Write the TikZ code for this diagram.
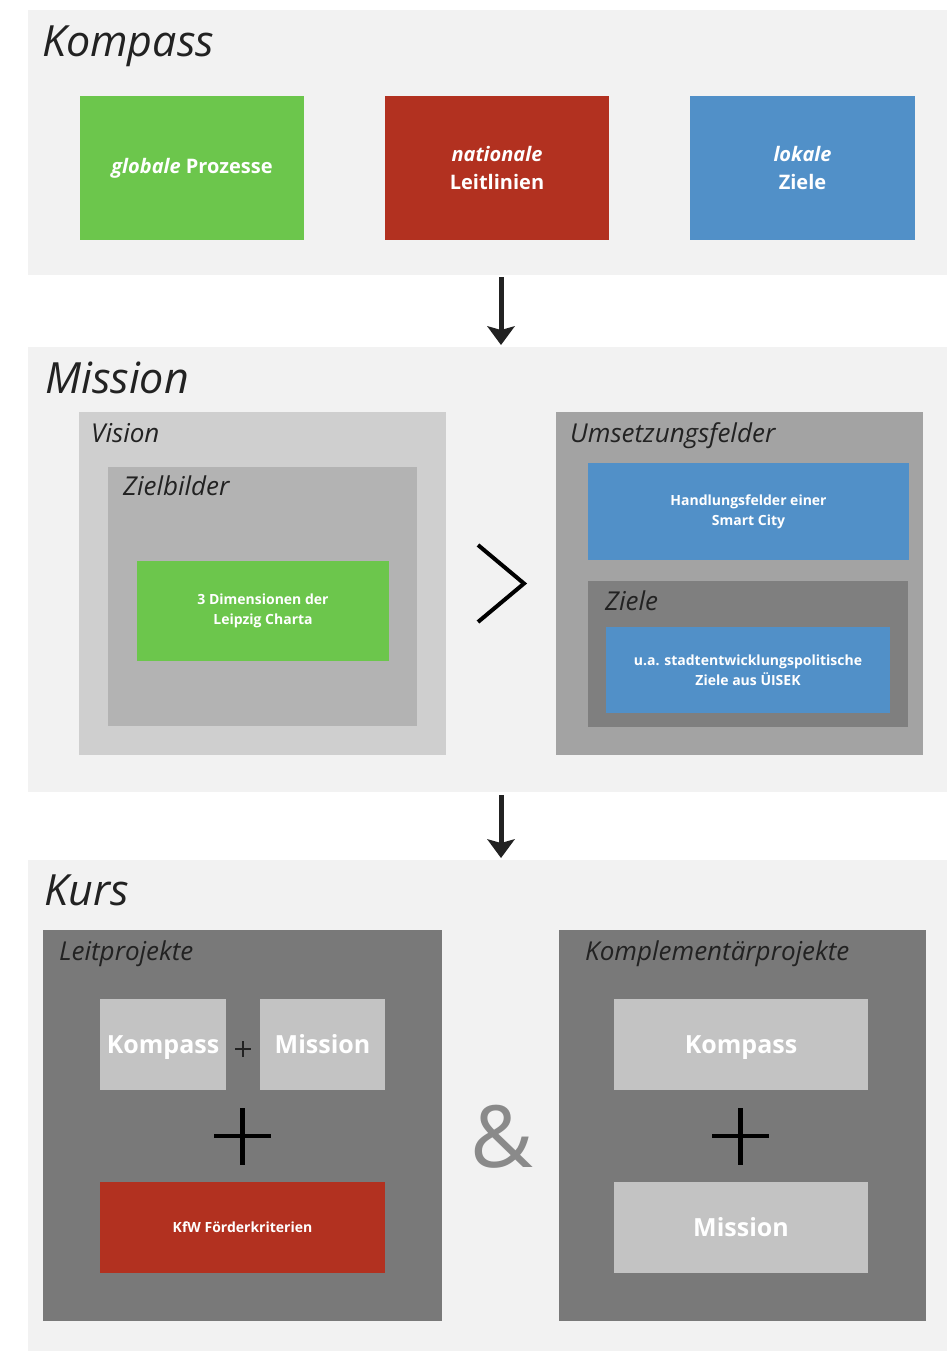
\documentclass[tikz,border=0pt]{standalone}
\usepackage{fontspec}
\setmainfont{Open Sans}
\usetikzlibrary{arrows.meta}

\definecolor{panelbg}{HTML}{F2F2F2}
\definecolor{gGreen}{HTML}{6CC64C}
\definecolor{gRed}{HTML}{B23120}
\definecolor{gBlue}{HTML}{5190C8}
\definecolor{grayA}{HTML}{CFCFCF}
\definecolor{grayB}{HTML}{B3B3B3}
\definecolor{grayC}{HTML}{A3A3A3}
\definecolor{grayD}{HTML}{7F7F7F}
\definecolor{grayE}{HTML}{797979}
\definecolor{grayF}{HTML}{C3C3C3}
\definecolor{ink}{HTML}{222222}
\definecolor{amp}{HTML}{8A8A8A}

\tikzset{
  blk/.style={rectangle, inner sep=0pt, outer sep=0pt, draw=none, anchor=north west},
  title/.style={anchor=base west, inner sep=0pt, text=ink, font=\fontsize{43}{50}\selectfont\itshape},
  sublabel/.style={anchor=base west, inner sep=0pt, text=ink, font=\fontsize{26}{30}\selectfont\itshape},
  bigtext/.style={text=white, align=center, font=\fontsize{20}{28}\selectfont\bfseries},
  smalltext/.style={text=white, align=center, font=\fontsize{14}{20}\selectfont\bfseries},
  kurstext/.style={text=white, inner sep=0pt, text height=18pt, text depth=0pt,
                   font=\fontsize{25}{30}\selectfont\bfseries},
  flow/.style={draw=ink, fill=ink, line width=5pt,
               -{Stealth[length=19pt, width=28pt, inset=4pt, line width=0pt]}},
  signline/.style={draw=black, line width=4.5pt},
  minisign/.style={draw=ink, line width=2pt},
}

\begin{document}
\begin{tikzpicture}[x=1pt, y=-1pt]
\useasboundingbox (0,0) rectangle (947,1351);

% ---------- Kompass ----------
\node[blk, fill=panelbg, minimum width=919pt, minimum height=265pt] (kpanel) at (28,10) {};
\node[title] (ktitle) at (42,57) {Kompass};
\node[blk, fill=gGreen, minimum width=224pt, minimum height=144pt] (kglob) at (80,96) {};
\node[bigtext] (kglobt) at (kglob.center) {\itshape globale\upshape{} Prozesse};
\node[blk, fill=gRed, minimum width=224pt, minimum height=144pt] (knat) at (385,96) {};
\node[bigtext] (knatt) at (knat.center) {\itshape nationale\\Leitlinien};
\node[blk, fill=gBlue, minimum width=225pt, minimum height=144pt] (klok) at (690,96) {};
\node[bigtext] (klokt) at (klok.center) {\itshape lokale\\Ziele};

% ---------- Mission ----------
\node[blk, fill=panelbg, minimum width=919pt, minimum height=445pt] (mpanel) at (28,347) {};
\node[title] (mtitle) at (45,393) {Mission};

\node[blk, fill=grayA, minimum width=367pt, minimum height=343pt] (vision) at (79,412) {};
\node[sublabel] (visiont) at (91,442) {Vision};
\node[blk, fill=grayB, minimum width=309pt, minimum height=259pt] (zielb) at (108,467) {};
\node[sublabel] (zielbt) at (123,495) {Zielbilder};
\node[blk, fill=gGreen, minimum width=252pt, minimum height=100pt] (leipzig) at (137,561) {};
\node[smalltext] (leipzigt) at (leipzig.center) {3 Dimensionen der\\Leipzig Charta};

\draw[draw=black, line width=4pt, line join=miter] (478,545) -- (524,583.5) -- (478,622);

\node[blk, fill=grayC, minimum width=367pt, minimum height=343pt] (umsetz) at (556,412) {};
\node[sublabel] (umsetzt) at (570,442) {Umsetzungsfelder};
\node[blk, fill=gBlue, minimum width=321pt, minimum height=97pt] (handl) at (588,463) {};
\node[smalltext] (handlt) at (handl.center) {Handlungsfelder einer\\Smart City};
\node[blk, fill=grayD, minimum width=320pt, minimum height=146pt] (ziele) at (588,581) {};
\node[sublabel] (zielet) at (605,610) {Ziele};
\node[blk, fill=gBlue, minimum width=284pt, minimum height=86pt] (isek) at (606,627) {};
\node[smalltext] (isekt) at (isek.center) {u.a. stadtentwicklungspolitische\\Ziele aus ÜISEK};

% ---------- Kurs ----------
\node[blk, fill=panelbg, minimum width=919pt, minimum height=491pt] (cpanel) at (28,860) {};
\node[title] (ctitle) at (44,905) {Kurs};

\node[blk, fill=grayE, minimum width=399pt, minimum height=391pt] (leit) at (43,930) {};
\node[sublabel] (leitt) at (59,960) {Leitprojekte};
\node[blk, fill=grayF, minimum width=126pt, minimum height=91pt] (lkomp) at (100,999) {};
\node[kurstext] (lkompt) at (lkomp.center) {Kompass};
\node[blk, fill=grayF, minimum width=125pt, minimum height=91pt] (lmiss) at (260,999) {};
\node[kurstext] (lmisst) at (lmiss.center) {Mission};
\draw[minisign] (235,1049) -- (251,1049);
\draw[minisign] (243,1041) -- (243,1057);
\draw[signline] (214,1136) -- (271,1136);
\draw[signline] (242.5,1108) -- (242.5,1165);
\node[blk, fill=gRed, minimum width=285pt, minimum height=91pt] (kfw) at (100,1182) {};
\node[smalltext] (kfwt) at (kfw.center) {KfW Förderkriterien};

\node[text=amp, inner sep=0pt, font=\fontsize{86}{86}\selectfont] (ampers) at (502,1137) {\&};

\node[blk, fill=grayE, minimum width=367pt, minimum height=391pt] (kompl) at (559,930) {};
\node[sublabel] (komplt) at (585,960) {Komplementärprojekte};
\node[blk, fill=grayF, minimum width=254pt, minimum height=91pt] (rkomp) at (614,999) {};
\node[kurstext] (rkompt) at (rkomp.center) {Kompass};
\draw[signline] (712,1136) -- (769,1136);
\draw[signline] (740.5,1108) -- (740.5,1165);
\node[blk, fill=grayF, minimum width=254pt, minimum height=91pt] (rmiss) at (614,1182) {};
\node[kurstext] (rmisst) at (rmiss.center) {Mission};

% ---------- connectors between the stages ----------
\coordinate (axis) at (501,0);
\draw[flow, shorten <=2pt, shorten >=2pt] (kpanel.south -| axis) -- (mpanel.north -| axis);
\draw[flow, shorten <=3pt, shorten >=2pt] (mpanel.south -| axis) -- (cpanel.north -| axis);
\end{tikzpicture}
\end{document}
